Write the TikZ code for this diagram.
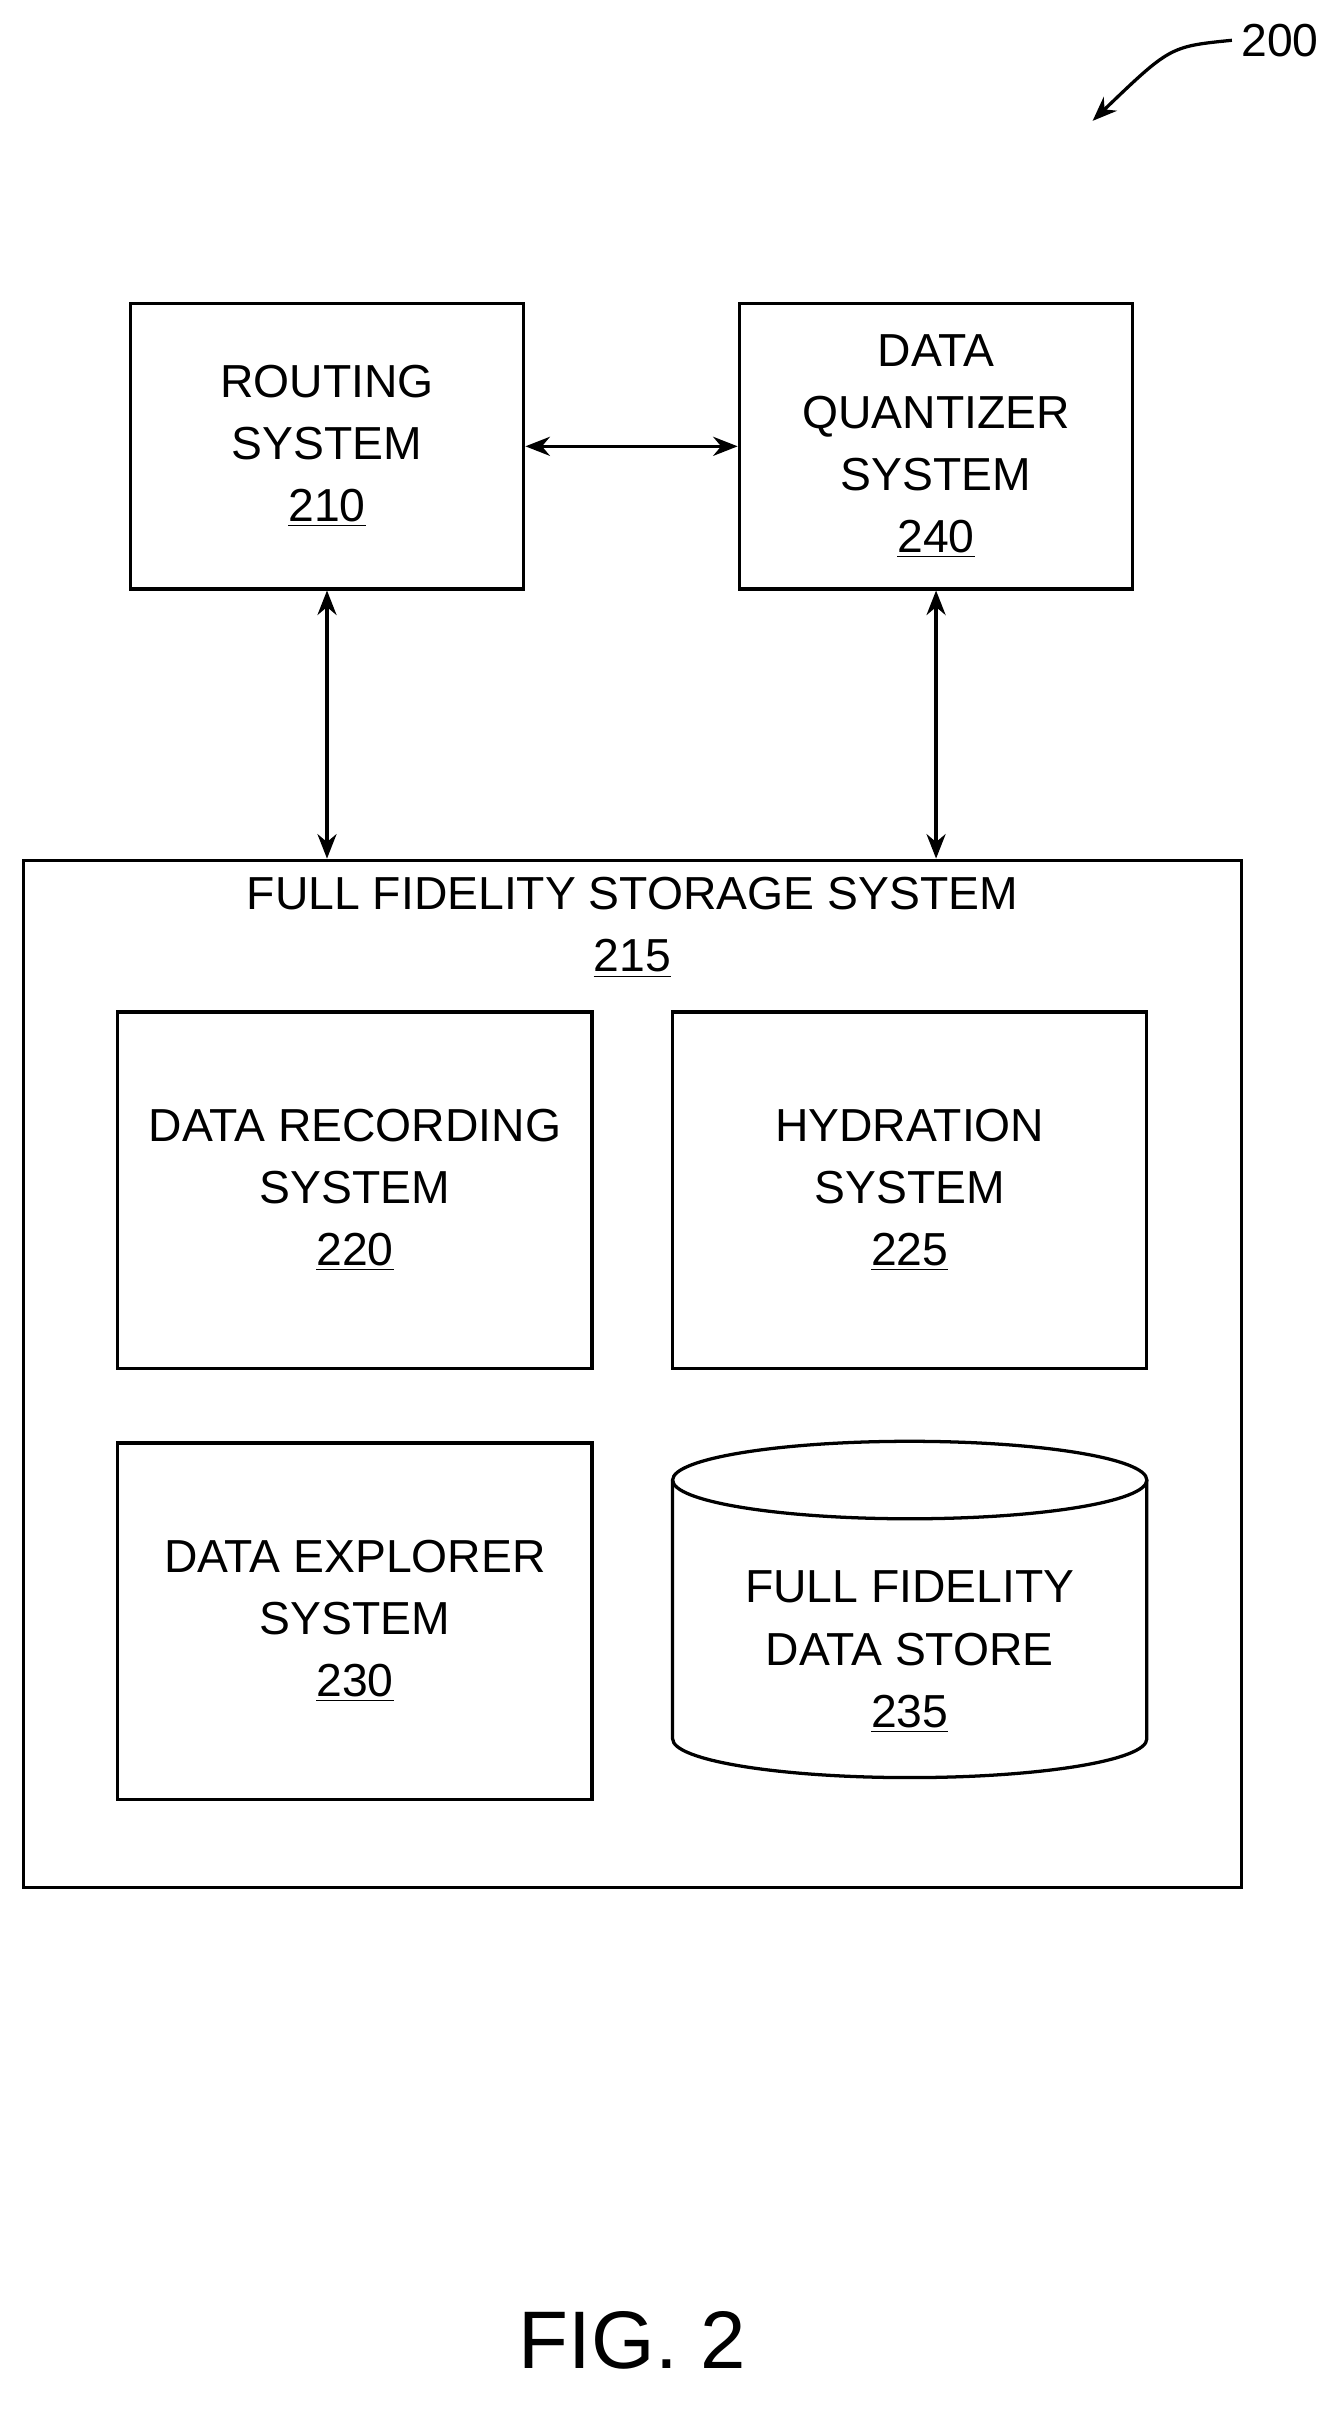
\documentclass[tikz,border=0pt]{standalone}
\usepackage{fontspec}
\setmainfont{Liberation Sans}
\usetikzlibrary{arrows.meta}
\begin{document}
\begin{tikzpicture}[x=0.02cm,y=-0.02cm,
    box/.style={draw,line width=1.2pt,align=center,font=\fontsize{17}{22.8}\selectfont},
    link/.style={line width=1.2pt,{Stealth[length=9pt,width=7pt]}-{Stealth[length=9pt,width=7pt]}}]
    \useasboundingbox (0,0) rectangle (860,1557);
    % top systems
    \node[box,minimum width=5.08cm,minimum height=3.68cm] at (211,288) (routing) {ROUTING\\SYSTEM\\\underline{210}};
    \node[box,minimum width=5.08cm,minimum height=3.68cm] at (604,288) (quant) {DATA\\QUANTIZER\\SYSTEM\\\underline{240}};
    % storage
    \node[draw,line width=1.2pt,minimum width=15.72cm,minimum height=13.26cm] at (408,886.5) (storage) {};
    \node[align=center,font=\fontsize{17}{22.8}\selectfont,anchor=north] at (408,560) (title) {FULL FIDELITY STORAGE SYSTEM\\\underline{215}};
    \node[box,minimum width=6.12cm,minimum height=4.6cm] at (229,768) (record) {DATA RECORDING\\SYSTEM\\\underline{220}};
    \node[box,minimum width=6.12cm,minimum height=4.6cm] at (587,768) (hydra) {HYDRATION\\SYSTEM\\\underline{225}};
    \node[box,minimum width=6.12cm,minimum height=4.6cm] at (229,1046) (explore) {DATA EXPLORER\\SYSTEM\\\underline{230}};
    % data store cylinder
    \draw[line width=1.2pt] (434,955) -- (434,1122) arc[start angle=180,end angle=0,x radius=153,y radius=25] -- (740,955);
    \draw[line width=1.2pt] (587,955) ellipse[x radius=153,y radius=25];
    \node[align=center,font=\fontsize{17}{22.8}\selectfont] at (587,1066) (store) {FULL FIDELITY\\DATA STORE\\\underline{235}};
    % connectors
    \draw[link] (routing) -- (quant);
    \draw[link] (routing.south) -- (routing.south |- storage.north);
    \draw[link] (quant.south) -- (quant.south |- storage.north);
    % reference numeral
    \node[font=\fontsize{17}{20}\selectfont] at (826,26) (ref) {200};
    \coordinate (refend) at (705,78);
    \draw[line width=1.2pt,-{Stealth[length=9pt,width=7pt]}] (ref.west) .. controls (755,30) .. (refend);
    \node[font=\fontsize{30}{36}\selectfont] at (408,1510) (fig) {FIG. 2};
\end{tikzpicture}
\end{document}
